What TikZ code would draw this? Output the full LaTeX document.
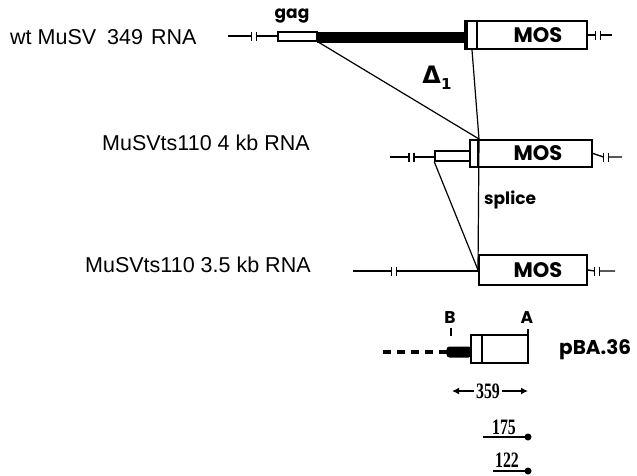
\documentclass[tikz,border=0pt]{standalone}
\usepackage{fontspec}
\setmainfont{Liberation Sans}
\newfontfamily\geofont{Poppins}
\newfontfamily\grkfont{DejaVu Sans}
\newfontfamily\numfont{Liberation Serif}
\usetikzlibrary{arrows.meta,positioning}

\begin{document}
\begin{tikzpicture}[
    x=1pt, y=-1pt,
    >={Latex[length=7pt,width=7pt]},
    lbl/.style={
        anchor=west,
        inner sep=0pt,
        font=\fontsize{21.5}{24}\selectfont
    },
    tag/.style={
        inner sep=0pt,
        font=\geofont\bfseries\fontsize{17}{20}\selectfont
    },
    mos/.style={
        draw,
        line width=2pt,
        fill=white,
        inner sep=0pt,
        font=\geofont\bfseries\fontsize{21}{24}\selectfont
    },
    strip/.style={
        draw,
        line width=2pt,
        fill=white,
        inner sep=0pt
    },
    rna/.style={line width=1.4pt},
    link/.style={line width=1.2pt},
    num/.style={
        inner sep=2pt,
        font=\numfont\bfseries\fontsize{22}{24}\selectfont
    },
    brk/.pic={
        \draw[line width=1.4pt] (-2.5,-4.5) -- (-2.5,4.5);
        \draw[line width=1.4pt] (2.5,-4.5) -- (2.5,4.5);
    }
]
\useasboundingbox (0,0) rectangle (637,475);

% wild type RNA
\node[lbl] (wt) at (10,37) {wt MuSV\hspace{5pt} 349\hspace{2pt} RNA};
\draw[rna] (228,36) -- (251.5,36) (256.5,36) -- (278,36);
\pic at (254,36) {brk};
\node[strip, line width=1.5pt, minimum width=39pt, minimum height=9pt] (gag) at (297.5,36.5) {};
\node[tag] (gagl) at (292,16) {gag};
\node[fill=black, inner sep=0pt, minimum width=147pt, minimum height=11pt] (bar1) at (390.5,37) {};
\node[mos, minimum width=110pt, minimum height=28pt] (mos1) at (532,35) {\hspace*{12pt}MOS};
\node[strip, minimum width=10pt, minimum height=28pt] (ltr1) at (472,35) {};
\draw[line width=4pt] (ltr1.north west) -- (ltr1.south west);
\draw[rna] (mos1.east) -- (595.5,35) (600.5,35) -- (612,35);
\pic at (598,35) {brk};

% 4 kb RNA
\node[lbl] (r4) at (102,143) {MuSVts110 4 kb RNA};
\draw[rna] (390,157) -- (409,157) (414,157) -- (435,157);
\pic at (411.5,157) {brk};
\node[strip, line width=1.5pt, minimum width=35pt, minimum height=10pt] (ltr2) at (452.5,156) {};
\node[strip, minimum width=8pt, minimum height=27pt] (ltr2b) at (474,153.5) {};
\node[mos, minimum width=114pt, minimum height=27pt] (mos2) at (535,153.5) {\hspace*{6pt}MOS};
\draw[rna] (mos2.east) -- (603.5,157) (608.5,157) -- (622,157);
\pic at (606,157) {brk};

% 3.5 kb RNA
\node[lbl] (r35) at (85,265) {MuSVts110 3.5 kb RNA};
\draw[rna] (353,271) -- (391.5,271) (396.5,271) -- (479,271);
\pic at (394,271) {brk};
\node[mos, minimum width=108pt, minimum height=30pt] (mos3) at (533,270) {\hspace*{10pt}MOS};
\draw[rna] (mos3.east) -- (594.5,271) (599.5,271) -- (615,271);
\pic at (597,271) {brk};

% deletion and splice
\draw[link] (gag.south east) -- (ltr2b.north east);
\draw[link] (ltr1.south) -- (ltr2b.north east);
\draw[link] (ltr2b.north east) -- (mos3.west);
\draw[link] (ltr2.south west) -- (mos3.west);
\node[inner sep=0pt, font=\grkfont\bfseries\fontsize{24}{26}\selectfont] (del) at (437,78)
    {Δ\raisebox{-6pt}{\fontsize{15}{15}\selectfont 1}};
\node[tag, anchor=west] (spl) at (484,200) {splice};

% clone pBA.36
\draw[line width=4pt, dash pattern=on 8pt off 6pt] (383,352) -- (449,352);
\node[fill=black, rounded corners=3pt, inner sep=0pt, minimum width=25pt, minimum height=11pt] (ins) at (459,352) {};
\node[strip, minimum width=11pt, minimum height=28pt] (ltrp) at (476.5,349) {};
\node[strip, minimum width=46pt, minimum height=28pt] (pba) at (505,349) {};
\node[tag] (bl) at (450,318) {B};
\node[tag] (al) at (527,318) {A};
\coordinate (bt) at (451,328);
\coordinate (at) at (528,329);
\draw[line width=2pt] (bt) -- ++(0,8);
\draw[line width=2pt] (at) -- ++(0,5);
\node[tag, anchor=west, font=\geofont\bfseries\fontsize{20}{22}\selectfont] (pbal) at (559,350) {pBA.36};

% fragments
\node[num] (len) at (488,391) {\scalebox{0.72}[1]{359}};
\coordinate (lenL) at (452,391);
\coordinate (lenR) at (528,391);
\draw[->, line width=2pt] (len.west) -- (lenL);
\draw[->, line width=2pt] (len.east) -- (lenR);

\node[num] (f175) at (504,427) {\scalebox{0.72}[1]{175}};
\coordinate (f175a) at (483,437);
\coordinate (f175b) at (528,437);
\draw[line width=1.5pt] (f175a) -- (f175b);
\fill (f175b) circle (3.5);

\node[num] (f122) at (507,460) {\scalebox{0.72}[1]{122}};
\coordinate (f122a) at (493,471);
\coordinate (f122b) at (528,471);
\draw[line width=1.5pt] (f122a) -- (f122b);
\fill (f122b) circle (3.5);
\end{tikzpicture}
\end{document}
